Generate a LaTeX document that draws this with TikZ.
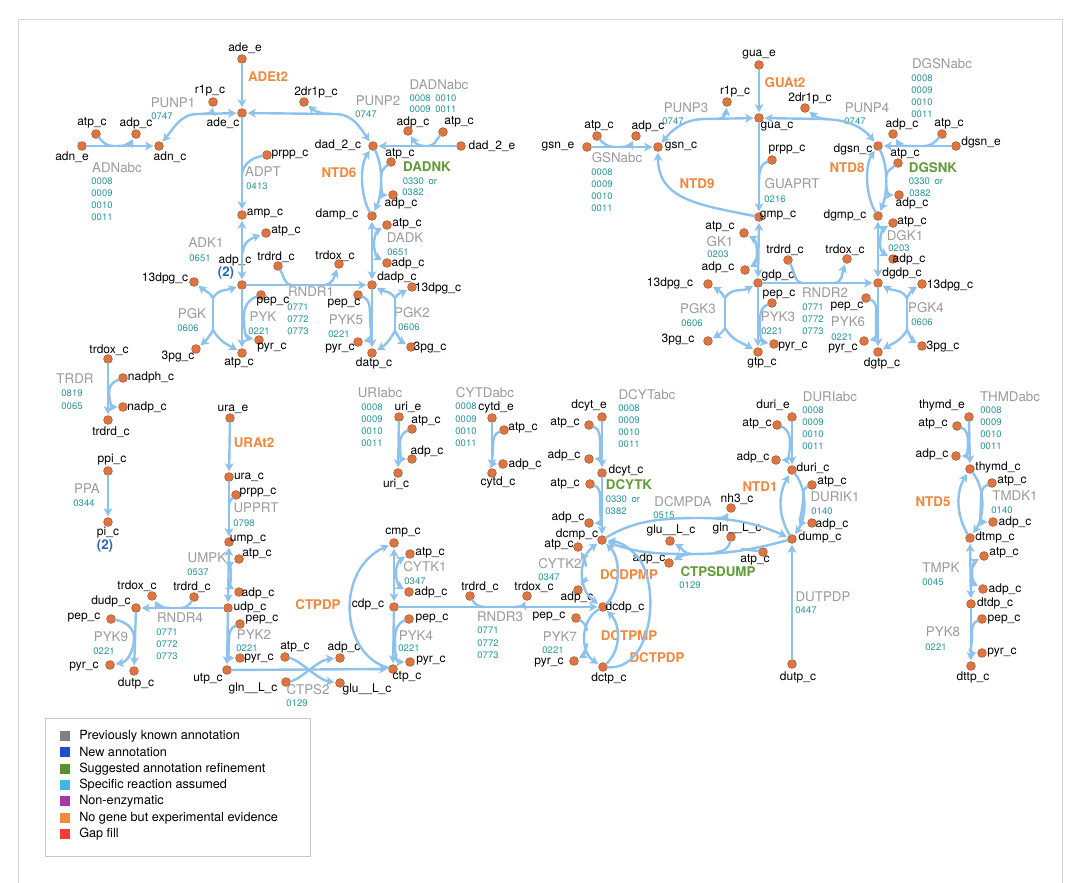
\documentclass[tikz,border=0pt]{standalone}
\usepackage{fontspec}
\setmainfont{TeX Gyre Heros}
\usetikzlibrary{arrows.meta}
\definecolor{rxc}{RGB}{141,194,236}
\definecolor{dotf}{RGB}{219,118,66}
\definecolor{dotd}{RGB}{178,86,46}
\definecolor{gname}{RGB}{155,155,155}
\definecolor{cteal}{RGB}{38,150,150}
\definecolor{corange}{RGB}{240,136,62}
\definecolor{cgreen}{RGB}{98,156,55}
\definecolor{cblue}{RGB}{40,105,180}
\definecolor{legbd}{RGB}{200,200,200}
\definecolor{framec}{RGB}{215,215,215}
\definecolor{lg1}{RGB}{128,128,128}
\definecolor{lg2}{RGB}{30,80,200}
\definecolor{lg3}{RGB}{85,145,50}
\definecolor{lg4}{RGB}{70,180,230}
\definecolor{lg5}{RGB}{160,60,160}
\definecolor{lg6}{RGB}{240,140,60}
\definecolor{lg7}{RGB}{240,60,60}
\newcount\tcnt
\newcommand{\tx}[3]{\global\advance\tcnt by 1 \node[#1] (t\the\tcnt) at (#2) {#3};}
\newcommand{\mtb}[4]{\node[dot] (#1) at (#2) {}; \node[mlab] (#1t) at (#3) {#4};}
\tikzset{
 dot/.style={circle, fill=dotf, draw=dotd, line width=0.4pt, inner sep=0pt, minimum size=6.6pt},
 mlab/.style={font=\fontsize{9}{10}\selectfont, text=black, inner sep=0pt},
 rlab/.style={font=\fontsize{10}{11}\selectfont, text=gname, inner sep=0pt},
 clab/.style={font=\fontsize{7.1}{8}\selectfont, text=cteal, inner sep=0pt},
 olab/.style={font=\bfseries\fontsize{10}{11}\selectfont, text=corange, inner sep=0pt},
 glab/.style={font=\bfseries\fontsize{10}{11}\selectfont, text=cgreen, inner sep=0pt},
 blab/.style={font=\bfseries\fontsize{10}{11}\selectfont, text=cblue, inner sep=0pt},
 ln/.style={draw=rxc, line width=1.8pt, line cap=round},
 ar/.style={ln, -{Stealth[length=6pt,width=6.5pt,inset=1.5pt]}, shorten >=0.8pt},
 dar/.style={ln, {Stealth[length=6pt,width=6.5pt,inset=1.5pt]}-{Stealth[length=6pt,width=6.5pt,inset=1.5pt]}, shorten >=0.8pt, shorten <=0.8pt},
 sq/.style={minimum size=7.5pt, inner sep=0pt},
 leg/.style={font=\fontsize{9.5}{11}\selectfont, text=black, inner sep=0pt, anchor=west},
}
\begin{document}
\begin{tikzpicture}[x=0.75pt,y=-0.75pt]
\useasboundingbox (0,0) rectangle (1078,882);
\fill[white] (0,0) rectangle (1078,882);
\coordinate (fbl) at (18,885); \coordinate (ftl) at (18,19);
\coordinate (ftr) at (1062,19); \coordinate (fbr) at (1062,885);
\draw[framec, line width=0.7pt] (fbl) -- (ftl) -- (ftr) -- (fbr);

%%%%%%%% metabolites: top-left
\mtb{adee}{242,59}{245,48}{ade\_e}
\mtb{adec}{242,113}{223,123}{ade\_c}
\mtb{rp1}{213,102}{210,91}{r1p\_c}
\mtb{drp1}{304,102}{316,92}{2dr1p\_c}
\mtb{atpA}{96,134}{92,123}{atp\_c}
\mtb{adpA}{136,134}{136,123}{adp\_c}
\mtb{adne}{82,146}{72,157}{adn\_e}
\mtb{adnc}{159,146}{170,157}{adn\_c}
\mtb{dadc}{373,146}{338,145}{dad\_2\_c}
\mtb{prppA}{267,155}{290,155}{prpp\_c}
\mtb{ampc}{242,215}{265,214}{amp\_c}
\mtb{dampc}{372,216}{337,214}{damp\_c}
\mtb{atpB}{391,162}{400,154}{atp\_c}
\mtb{adpB}{393,195}{401,203}{adp\_c}
\mtb{adpC}{408,131}{413,122}{adp\_c}
\mtb{atpC}{443,132}{459,122}{atp\_c}
\mtb{dade}{461,146}{492,146}{dad\_2\_e}
\mtb{atpD}{266,233}{286,231}{atp\_c}
\mtb{adpc}{242,285}{235,260}{adp\_c}
\mtb{trdrdA}{278,266}{276,257}{trdrd\_c}
\mtb{trdoxA}{339,264}{335,256}{trdox\_c}
\mtb{dadpc}{372,285}{397,277}{dadp\_c}
\mtb{dpgA}{194,282}{165,278}{13dpg\_c}
\mtb{pepA}{261,295}{273,302}{pep\_c}
\mtb{pyrA}{259,340}{272,348}{pyr\_c}
\mtb{pgA}{196,349}{178,357}{3pg\_c}
\mtb{atpc}{242,353}{239,363}{atp\_c}
\mtb{atpE}{387,225}{407,224}{atp\_c}
\mtb{adpE}{387,263}{408,263}{adp\_c}
\mtb{dpgB}{412,287}{438,288}{13dpg\_c}
\mtb{pepB}{358,295}{344,304}{pep\_c}
\mtb{pyrB}{358,342}{340,349}{pyr\_c}
\mtb{pgB}{411,347}{430,348}{3pg\_c}
\mtb{datpc}{372,353}{374,363}{datp\_c}
\mtb{trdoxT}{108,359}{109,350}{trdox\_c}
\mtb{nadph}{123,378}{151,377}{nadph\_c}
\mtb{nadp}{123,407}{147,407}{nadp\_c}
\mtb{trdrdT}{108,420}{111,432}{trdrd\_c}
\mtb{ppic}{108,471}{112,460}{ppi\_c}
\mtb{pic}{108,522}{108,533}{pi\_c}

%%%%%%%% metabolites: top-right
\mtb{guae}{759,65}{759,55}{gua\_e}
\mtb{guac}{759,118}{777,127}{gua\_c}
\mtb{rp2}{727,102}{735,92}{r1p\_c}
\mtb{drp2}{805,108}{810,98}{2dr1p\_c}
\mtb{gsne}{587,147}{558,147}{gsn\_e}
\mtb{atpF}{597,136}{599,126}{atp\_c}
\mtb{adpF}{636,136}{648,126}{adp\_c}
\mtb{gsnc}{658,147}{681,147}{gsn\_c}
\mtb{dgsnc}{878,146}{853,149}{dgsn\_c}
\mtb{adpG}{893,134}{902,124}{adp\_c}
\mtb{atpG}{942,134}{949,124}{atp\_c}
\mtb{dgsne}{956,146}{981,142}{dgsn\_e}
\mtb{prppB}{772,160}{787,150}{prpp\_c}
\mtb{gmpc}{759,217}{778,216}{gmp\_c}
\mtb{atpH}{898,163}{905,154}{atp\_c}
\mtb{adpH}{899,195}{912,203}{adp\_c}
\mtb{dgmpc}{878,216}{845,215}{dgmp\_c}
\mtb{atpI}{893,223}{912,222}{atp\_c}
\mtb{adpI}{893,259}{909,259}{adp\_c}
\mtb{atpJ}{744,233}{720,227}{atp\_c}
\mtb{adpJ}{745,270}{718,267}{adp\_c}
\mtb{gdpc}{758,283}{778,275}{gdp\_c}
\mtb{trdrdB}{788,260}{785,250}{trdrd\_c}
\mtb{trdoxB}{847,259}{845,250}{trdox\_c}
\mtb{dgdpc}{878,283}{902,273}{dgdp\_c}
\mtb{dpgC}{708,284}{670,283}{13dpg\_c}
\mtb{pgC}{708,341}{678,340}{3pg\_c}
\mtb{pepC}{772,303}{779,295}{pep\_c}
\mtb{pyrC}{774,344}{793,347}{pyr\_c}
\mtb{gtpc}{758,352}{762,363}{gtp\_c}
\mtb{pepD}{866,298}{847,307}{pep\_c}
\mtb{pyrD}{864,341}{843,349}{pyr\_c}
\mtb{dgtpc}{878,352}{882,363}{dgtp\_c}
\mtb{dpgD}{922,284}{950,285}{13dpg\_c}
\mtb{pgD}{922,346}{943,347}{3pg\_c}

%%%%%%%% metabolites: bottom
\mtb{urae}{230,418}{233,409}{ura\_e}
\mtb{urac}{229,477}{249,477}{ura\_c}
\mtb{prppC}{236,495}{258,493}{prpp\_c}
\mtb{umpc}{229,542}{248,540}{ump\_c}
\mtb{atpK}{239,559}{257,554}{atp\_c}
\mtb{adpK}{239,592}{258,593}{adp\_c}
\mtb{udpc}{228,608}{250,607}{udp\_c}
\mtb{trdoxC}{152,596}{137,586}{trdox\_c}
\mtb{trdrdC}{194,597}{192,587}{trdrd\_c}
\mtb{dudpc}{136,608}{111,601}{dudp\_c}
\mtb{pepE}{111,619}{84,618}{pep\_c}
\mtb{pyrE}{110,665}{84,667}{pyr\_c}
\mtb{dutpA}{134,671}{136,683}{dutp\_c}
\mtb{pepF}{240,624}{262,620}{pep\_c}
\mtb{pyrF}{240,658}{259,659}{pyr\_c}
\mtb{utpc}{227,670}{208,679}{utp\_c}
\mtb{atpL}{285,657}{295,647}{atp\_c}
\mtb{adpL}{340,658}{344,647}{adp\_c}
\mtb{glnA}{286,682}{253,688}{gln\_\_L\_c}
\mtb{gluA}{340,683}{367,689}{glu\_\_L\_c}
\mtb{cmpc}{394,543}{403,533}{cmp\_c}
\mtb{atpM}{410,554}{430,553}{atp\_c}
\mtb{adpM}{409,592}{431,592}{adp\_c}
\mtb{cdpc}{394,607}{368,604}{cdp\_c}
\mtb{pepG}{409,619}{432,619}{pep\_c}
\mtb{pyrG}{410,662}{431,661}{pyr\_c}
\mtb{ctpc}{393,669}{407,677}{ctp\_c}
\mtb{trdrdD}{470,596}{480,587}{trdrd\_c}
\mtb{trdoxD}{527,596}{534,587}{trdox\_c}
\mtb{urie}{399,417}{408,407}{uri\_e}
\mtb{atpN}{412,429}{426,421}{atp\_c}
\mtb{adpN}{412,459}{427,451}{adp\_c}
\mtb{uric}{398,473}{396,484}{uri\_c}
\mtb{cytde}{492,418}{496,407}{cytd\_e}
\mtb{atpO}{504,430}{523,428}{atp\_c}
\mtb{adpO}{503,464}{525,464}{adp\_c}
\mtb{cytdc}{492,473}{498,482}{cytd\_c}
\mtb{dcyte}{602,417}{589,405}{dcyt\_e}
\mtb{atpP}{589,425}{565,423}{atp\_c}
\mtb{adpP}{589,459}{564,455}{adp\_c}
\mtb{dcytc}{602,473}{626,470}{dcyt\_c}
\mtb{atpQ}{590,484}{565,484}{atp\_c}
\mtb{adpQ}{589,523}{568,517}{adp\_c}
\mtb{dcmpc}{602,540}{577,534}{dcmp\_c}
\mtb{atpR}{578,547}{559,545}{atp\_c}
\mtb{adpR}{578,590}{577,597}{adp\_c}
\mtb{dcdpc}{603,607}{625,607}{dcdp\_c}
\mtb{pepH}{576,618}{549,617}{pep\_c}
\mtb{pyrH}{574,661}{549,663}{pyr\_c}
\mtb{dctpc}{603,667}{609,678}{dctp\_c}
\mtb{gluB}{670,541}{671,530}{glu\_\_L\_c}
\mtb{adpS}{669,563}{649,558}{adp\_c}
\mtb{nh3}{731,508}{737,499}{nh3\_c}
\mtb{glnB}{731,537}{737,528}{gln\_\_L\_c}
\mtb{atpS}{763,552}{755,560}{atp\_c}
\mtb{durie}{792,417}{773,405}{duri\_e}
\mtb{atpT}{777,425}{757,424}{atp\_c}
\mtb{adpT}{776,460}{753,457}{adp\_c}
\mtb{duric}{792,470}{813,468}{duri\_c}
\mtb{atpU}{812,485}{832,482}{atp\_c}
\mtb{adpU}{812,523}{832,524}{adp\_c}
\mtb{dumpc}{792,539}{820,537}{dump\_c}
\mtb{dutpB}{792,664}{798,677}{dutp\_c}
\mtb{thymde}{969,417}{942,405}{thymd\_e}
\mtb{atpV}{957,426}{933,424}{atp\_c}
\mtb{adpV}{956,456}{932,454}{adp\_c}
\mtb{thymdc}{970,469}{998,467}{thymd\_c}
\mtb{atpW}{992,483}{1012,481}{atp\_c}
\mtb{adpW}{993,522}{1015,522}{adp\_c}
\mtb{dtmpc}{970,538}{995,537}{dtmp\_c}
\mtb{atpX}{984,556}{1004,553}{atp\_c}
\mtb{adpX}{983,589}{1005,589}{adp\_c}
\mtb{dtdpc}{971,604}{995,603}{dtdp\_c}
\mtb{pepI}{982,619}{1004,620}{pep\_c}
\mtb{pyrI}{982,653}{1002,653}{pyr\_c}
\mtb{dttpc}{971,666}{973,677}{dttp\_c}

%%%%%%%% reaction names
\tx{rlab}{173,103}{PUNP1} \tx{clab}{162,116}{0747}
\tx{olab}{268,77}{ADEt2}
\tx{rlab}{378,101}{PUNP2} \tx{clab}{366,114}{0747}
\tx{rlab}{117,168}{ADNabc}
\tx{clab}{102,181}{0008} \tx{clab}{102,193}{0009} \tx{clab}{102,205}{0010} \tx{clab}{102,217}{0011}
\tx{rlab}{439,85}{DADNabc}
\tx{clab}{433,98}{0008\hspace{3.5pt}0010} \tx{clab}{433,109}{0009\hspace{3.5pt}0011}
\tx{rlab}{263,172}{ADPT} \tx{clab}{257,186}{0413}
\tx{olab}{339,173}{NTD6}
\tx{glab}{427,167}{DADNK} \tx{clab}{420,181}{0330\hspace{3.5pt}or} \tx{clab}{413,192}{0382}
\tx{rlab}{206,243}{ADK1} \tx{clab}{200,258}{0651}
\tx{blab}{226,273}{(2)}
\tx{rlab}{405,238}{DADK} \tx{clab}{398,252}{0651}
\tx{rlab}{311,292}{RNDR1}
\tx{clab}{298,307}{0771} \tx{clab}{298,319}{0772} \tx{clab}{298,331}{0773}
\tx{rlab}{192,314}{PGK} \tx{clab}{188,328}{0606}
\tx{rlab}{263,317}{PYK} \tx{clab}{259,331}{0221}
\tx{rlab}{346,320}{PYK5} \tx{clab}{339,334}{0221}
\tx{rlab}{412,313}{PGK2} \tx{clab}{409,327}{0606}
\tx{rlab}{75,379}{TRDR} \tx{clab}{72,393}{0819} \tx{clab}{72,406}{0065}
\tx{rlab}{87,489}{PPA} \tx{clab}{84,503}{0344}
\tx{blab}{105,546}{(2)}

\tx{olab}{785,83}{GUAt2}
\tx{rlab}{686,108}{PUNP3} \tx{clab}{673,121}{0747}
\tx{rlab}{867,108}{PUNP4} \tx{clab}{855,121}{0747}
\tx{rlab}{617,158}{GSNabc}
\tx{clab}{602,172}{0008} \tx{clab}{602,184}{0009} \tx{clab}{602,196}{0010} \tx{clab}{602,208}{0011}
\tx{olab}{697,184}{NTD9}
\tx{rlab}{942,64}{DGSNabc}
\tx{clab}{922,78}{0008} \tx{clab}{922,90}{0009} \tx{clab}{922,102}{0010} \tx{clab}{922,114}{0011}
\tx{rlab}{792,184}{GUAPRT} \tx{clab}{775,199}{0216}
\tx{olab}{847,168}{NTD8}
\tx{glab}{933,168}{DGSNK} \tx{clab}{926,181}{0330\hspace{3.5pt}or} \tx{clab}{920,193}{0382}
\tx{rlab}{720,242}{GK1} \tx{clab}{718,254}{0203}
\tx{rlab}{905,236}{DGK1} \tx{clab}{899,248}{0203}
\tx{rlab}{825,293}{RNDR2}
\tx{clab}{813,307}{0771} \tx{clab}{813,319}{0772} \tx{clab}{813,331}{0773}
\tx{rlab}{698,309}{PGK3} \tx{clab}{692,323}{0606}
\tx{rlab}{778,317}{PYK3} \tx{clab}{772,331}{0221}
\tx{rlab}{848,322}{PYK6} \tx{clab}{842,337}{0221}
\tx{rlab}{926,308}{PGK4} \tx{clab}{922,322}{0606}

\tx{olab}{254,443}{URAt2}
\tx{rlab}{256,508}{UPPRT} \tx{clab}{244,523}{0798}
\tx{rlab}{380,393}{URIabc}
\tx{clab}{372,407}{0008} \tx{clab}{372,419}{0009} \tx{clab}{372,431}{0010} \tx{clab}{372,443}{0011}
\tx{rlab}{485,393}{CYTDabc}
\tx{clab}{466,406}{0008} \tx{clab}{466,419}{0009} \tx{clab}{466,431}{0010} \tx{clab}{466,443}{0011}
\tx{rlab}{647,395}{DCYTabc}
\tx{clab}{629,408}{0008} \tx{clab}{629,420}{0009} \tx{clab}{629,432}{0010} \tx{clab}{629,444}{0011}
\tx{glab}{629,485}{DCYTK} \tx{clab}{623,499}{0330\hspace{3.5pt}or} \tx{clab}{616,511}{0382}
\tx{rlab}{683,502}{DCMPDA} \tx{clab}{664,515}{0515}
\tx{rlab}{830,397}{DURIabc}
\tx{clab}{813,410}{0008} \tx{clab}{813,422}{0009} \tx{clab}{813,434}{0010} \tx{clab}{813,446}{0011}
\tx{olab}{760,487}{NTD1}
\tx{rlab}{835,497}{DURIK1} \tx{clab}{822,511}{0140}
\tx{rlab}{1010,397}{THMDabc}
\tx{clab}{991,410}{0008} \tx{clab}{991,422}{0009} \tx{clab}{991,434}{0010} \tx{clab}{991,446}{0011}
\tx{olab}{933,502}{NTD5}
\tx{rlab}{1015,496}{TMDK1} \tx{clab}{1002,510}{0140}
\tx{rlab}{207,558}{UMPK} \tx{clab}{198,572}{0537}
\tx{rlab}{425,567}{CYTK1} \tx{clab}{415,581}{0347}
\tx{olab}{318,605}{CTPDP}
\tx{rlab}{180,618}{RNDR4}
\tx{clab}{167,632}{0771} \tx{clab}{167,644}{0772} \tx{clab}{167,656}{0773}
\tx{rlab}{111,637}{PYK9} \tx{clab}{104,651}{0221}
\tx{rlab}{254,635}{PYK2} \tx{clab}{247,648}{0221}
\tx{rlab}{308,690}{CTPS2} \tx{clab}{297,703}{0129}
\tx{rlab}{416,636}{PYK4} \tx{clab}{409,648}{0221}
\tx{rlab}{500,617}{RNDR3}
\tx{clab}{488,630}{0771} \tx{clab}{488,643}{0772} \tx{clab}{488,655}{0773}
\tx{rlab}{560,564}{CYTK2} \tx{clab}{549,577}{0347}
\tx{rlab}{560,637}{PYK7} \tx{clab}{553,650}{0221}
\tx{olab}{629,575}{DCDPMP}
\tx{olab}{629,636}{DCTPMP}
\tx{olab}{657,658}{DCTPDP}
\tx{glab}{718,572}{CTPSDUMP} \tx{clab}{690,585}{0129}
\tx{rlab}{823,597}{DUTPDP} \tx{clab}{806,610}{0447}
\tx{rlab}{941,568}{TMPK} \tx{clab}{933,582}{0045}
\tx{rlab}{943,632}{PYK8} \tx{clab}{936,647}{0221}

%%%%%%%% reactions: top-left
\draw[ar] (adee) -- (adec);
\draw[ar] (adec) -- (ampc);
\coordinate (jADPT) at (242,176);
\draw[ln] (prppA) to[out=190,in=90] (jADPT);
\coordinate (jP1) at (198,114); \coordinate (jP1b) at (203,114);
\draw[dar] (adnc) to[out=50,in=180] (jP1) -- (adec);
\draw[ar] (jP1b) to[out=0,in=-95] (rp1);
\coordinate (jP2) at (335,114); \coordinate (jP2b) at (332,114);
\draw[dar] (adec) -- (jP2) to[out=0,in=125] (dadc);
\draw[ar] (jP2b) to[out=180,in=-40] (drp1);
\draw[ar] (adne) -- (adnc);
\coordinate (jA1) at (113,146); \coordinate (jA2) at (117,146);
\draw[ln] (atpA) to[out=-50,in=180] (jA1);
\draw[ar] (jA2) to[out=0,in=-120] (adpA);
\draw[ar] (dade) -- (dadc);
\coordinate (jB1) at (428,146); \coordinate (jB2) at (424,146);
\draw[ln] (atpC) to[out=-130,in=0] (jB1);
\draw[ar] (jB2) to[out=180,in=-60] (adpC);
\draw[ar] (dampc) .. controls (360,195) and (360,165) .. (dadc);
\draw[ar] (dadc) .. controls (384,168) and (382,195) .. (dampc);
\coordinate (jC1) at (381,177); \coordinate (jC2) at (381,184);
\draw[ln] (atpB) to[out=220,in=90] (jC1);
\draw[ar] (jC2) to[out=-90,in=180] (adpB);
\draw[dar] (ampc) -- (adpc);
\coordinate (jD) at (243,252);
\draw[ar] (jD) to[out=90,in=200] (atpD);
\draw[dar] (dampc) -- (dadpc);
\coordinate (jE) at (374,244);
\draw[ar] (jE) to[out=90,in=210] (atpE);
\draw[ar] (jE) to[out=-90,in=150] (adpE);
\draw[ar] (adpc) -- (dadpc);
\coordinate (jF1) at (292,285); \coordinate (jF2) at (324,285);
\draw[ln] (trdrdA) to[out=-60,in=180] (jF1);
\draw[ar] (jF2) to[out=0,in=-110] (trdoxA);
\coordinate (jG1) at (213,298); \coordinate (jG2) at (213,330);
\draw[ln] (jG1) -- (jG2);
\draw[ar] (jG1) to[out=120,in=-40] (dpgA);
\draw[ar] (jG1) to[out=60,in=200] (adpc);
\draw[ar] (jG2) to[out=-120,in=40] (pgA);
\draw[ar] (jG2) to[out=-60,in=150] (atpc);
\draw[ar] (adpc) -- (atpc);
\coordinate (jH) at (244,316);
\draw[ln] (pepA) to[out=200,in=90] (jH);
\draw[ar] (jH) to[out=-90,in=170] (pyrA);
\draw[ar] (dadpc) -- (datpc);
\coordinate (jI) at (370,316);
\draw[ln] (pepB) to[out=-20,in=90] (jI);
\draw[ar] (jI) to[out=-90,in=10] (pyrB);
\coordinate (jJ1) at (395,298); \coordinate (jJ2) at (395,331);
\draw[ln] (jJ1) -- (jJ2);
\draw[ar] (jJ1) to[out=120,in=-30] (dadpc);
\draw[ar] (jJ1) to[out=60,in=210] (dpgB);
\draw[ar] (jJ2) to[out=-120,in=30] (datpc);
\draw[ar] (jJ2) to[out=-60,in=150] (pgB);
\draw[ar] (trdoxT) -- (trdrdT);
\coordinate (jK) at (109,392);
\draw[ln] (nadph) to[out=200,in=90] (jK);
\draw[ar] (jK) to[out=-90,in=180] (nadp);
\draw[ar] (ppic) -- (pic);

%%%%%%%% reactions: top-right
\draw[ar] (guae) -- (guac);
\draw[ar] (guac) -- (gmpc);
\coordinate (jL) at (759,182);
\draw[ln] (prppB) to[out=200,in=90] (jL);
\coordinate (jM1) at (705,119); \coordinate (jM2) at (718,119);
\draw[dar] (gsnc) to[out=50,in=180] (jM1) -- (guac);
\draw[ar] (jM2) to[out=0,in=-95] (rp2);
\coordinate (jN1) at (820,119); \coordinate (jN2) at (828,119);
\draw[dar] (guac) -- (jN1) to[out=0,in=130] (dgsnc);
\draw[ar] (jN2) to[out=180,in=-40] (drp2);
\draw[ar] (gsne) -- (gsnc);
\coordinate (jO1) at (615,147); \coordinate (jO2) at (619,147);
\draw[ln] (atpF) to[out=-50,in=180] (jO1);
\draw[ar] (jO2) to[out=0,in=-120] (adpF);
\draw[ar] (gmpc) .. controls (700,205) and (658,200) .. (gsnc);
\draw[ar] (dgsne) -- (dgsnc);
\coordinate (jQ1) at (924,146); \coordinate (jQ2) at (919,146);
\draw[ln] (atpG) to[out=-130,in=0] (jQ1);
\draw[ar] (jQ2) to[out=180,in=-60] (adpG);
\draw[ar] (dgmpc) .. controls (865,195) and (865,165) .. (dgsnc);
\draw[ar] (dgsnc) .. controls (889,168) and (887,195) .. (dgmpc);
\coordinate (jR1) at (886,177); \coordinate (jR2) at (886,184);
\draw[ln] (atpH) to[out=220,in=90] (jR1);
\draw[ar] (jR2) to[out=-90,in=180] (adpH);
\draw[dar] (gmpc) -- (gdpc);
\coordinate (jS) at (757,252);
\draw[ar] (jS) to[out=90,in=-30] (atpJ);
\draw[ar] (jS) to[out=-90,in=30] (adpJ);
\draw[dar] (dgmpc) -- (dgdpc);
\coordinate (jT) at (880,245);
\draw[ar] (jT) to[out=90,in=210] (atpI);
\draw[ar] (jT) to[out=-90,in=150] (adpI);
\draw[ar] (gdpc) -- (dgdpc);
\coordinate (jU1) at (803,283); \coordinate (jU2) at (834,283);
\draw[ln] (trdrdB) to[out=-60,in=180] (jU1);
\draw[ar] (jU2) to[out=0,in=-110] (trdoxB);
\coordinate (jV1) at (725,298); \coordinate (jV2) at (725,328);
\draw[ln] (jV1) -- (jV2);
\draw[ar] (jV1) to[out=120,in=-30] (dpgC);
\draw[ar] (jV1) to[out=60,in=210] (gdpc);
\draw[ar] (jV2) to[out=-120,in=30] (pgC);
\draw[ar] (jV2) to[out=-60,in=150] (gtpc);
\draw[ar] (gdpc) -- (gtpc);
\coordinate (jW) at (760,320);
\draw[ln] (pepC) to[out=200,in=90] (jW);
\draw[ar] (jW) to[out=-90,in=170] (pyrC);
\draw[ar] (dgdpc) -- (dgtpc);
\coordinate (jX) at (876,320);
\draw[ln] (pepD) to[out=-20,in=90] (jX);
\draw[ar] (jX) to[out=-90,in=10] (pyrD);
\coordinate (jY1) at (907,298); \coordinate (jY2) at (907,330);
\draw[ln] (jY1) -- (jY2);
\draw[ar] (jY1) to[out=120,in=-30] (dgdpc);
\draw[ar] (jY1) to[out=60,in=210] (dpgD);
\draw[ar] (jY2) to[out=-120,in=30] (dgtpc);
\draw[ar] (jY2) to[out=-60,in=150] (pgD);

%%%%%%%% reactions: bottom
\draw[ar] (urae) -- (urac);
\draw[ar] (urac) -- (umpc);
\coordinate (jZ) at (229,510);
\draw[ln] (prppC) to[out=220,in=90] (jZ);
\draw[dar] (umpc) -- (udpc);
\coordinate (k1) at (231,575);
\draw[ar] (k1) to[out=90,in=210] (atpK);
\draw[ar] (k1) to[out=-90,in=150] (adpK);
\draw[ar] (udpc) -- (dudpc);
\coordinate (k2) at (181,608); \coordinate (k3) at (170,608);
\draw[ln] (trdrdC) to[out=-120,in=0] (k2);
\draw[ar] (k3) to[out=180,in=-60] (trdoxC);
\draw[ar] (dudpc) -- (dutpA);
\coordinate (k4) at (134,638);
\draw[ln] (pepE) to[out=-10,in=90] (k4);
\draw[ar] (k4) to[out=-90,in=10] (pyrE);
\draw[ar] (udpc) -- (utpc);
\coordinate (k5) at (229,640);
\draw[ln] (pepF) to[out=200,in=90] (k5);
\draw[ar] (k5) to[out=-90,in=180] (pyrF);
\draw[ar] (utpc) -- (ctpc);
\draw[ar] (atpL) .. controls (300,660) and (318,680) .. (gluA);
\draw[ar] (glnA) .. controls (300,680) and (318,660) .. (adpL);
\draw[dar] (cmpc) -- (cdpc);
\coordinate (k6) at (396,573);
\draw[ar] (k6) to[out=90,in=210] (atpM);
\draw[ar] (k6) to[out=-90,in=150] (adpM);
\draw[ar] (cdpc) -- (ctpc);
\coordinate (k7) at (395,638);
\draw[ln] (pepG) to[out=200,in=90] (k7);
\draw[ar] (k7) to[out=-90,in=180] (pyrG);
\draw[ar] (ctpc) .. controls (340,655) and (335,570) .. (cmpc);
\draw[ar] (cdpc) -- (dcdpc);
\coordinate (k8) at (485,607); \coordinate (k9) at (513,607);
\draw[ln] (trdrdD) to[out=-60,in=180] (k8);
\draw[ar] (k9) to[out=0,in=-110] (trdoxD);
\draw[ar] (urie) -- (uric);
\coordinate (k10) at (400,444);
\draw[ln] (atpN) to[out=200,in=90] (k10);
\draw[ar] (k10) to[out=-90,in=180] (adpN);
\draw[ar] (cytde) -- (cytdc);
\coordinate (k11) at (493,447);
\draw[ln] (atpO) to[out=200,in=90] (k11);
\draw[ar] (k11) to[out=-90,in=180] (adpO);
\draw[ar] (dcyte) -- (dcytc);
\coordinate (k12) at (600,443);
\draw[ln] (atpP) to[out=-20,in=90] (k12);
\draw[ar] (k12) to[out=-90,in=0] (adpP);
\draw[ar] (dcytc) -- (dcmpc);
\coordinate (k13) at (600,504);
\draw[ln] (atpQ) to[out=-20,in=90] (k13);
\draw[ar] (k13) to[out=-90,in=0] (adpQ);
\draw[ar] (durie) -- (duric);
\coordinate (k14) at (790,443);
\draw[ln] (atpT) to[out=-20,in=90] (k14);
\draw[ar] (k14) to[out=-90,in=0] (adpT);
\draw[ar] (thymde) -- (thymdc);
\coordinate (k15) at (968,442);
\draw[ln] (atpV) to[out=-20,in=90] (k15);
\draw[ar] (k15) to[out=-90,in=0] (adpV);
\draw[ar] (dumpc) .. controls (778,515) and (778,495) .. (duric);
\draw[ar] (duric) .. controls (808,490) and (806,518) .. (dumpc);
\coordinate (k16) at (803,500);
\draw[ln] (atpU) to[out=200,in=90] (k16);
\draw[ar] (k16) to[out=-90,in=180] (adpU);
\draw[ar] (dtmpc) .. controls (956,515) and (956,492) .. (thymdc);
\draw[ar] (thymdc) .. controls (986,490) and (984,517) .. (dtmpc);
\coordinate (k17) at (981,500);
\draw[ln] (atpW) to[out=200,in=90] (k17);
\draw[ar] (k17) to[out=-90,in=180] (adpW);
\draw[dar] (dtmpc) -- (dtdpc);
\coordinate (k18) at (972,572);
\draw[ar] (k18) to[out=90,in=210] (atpX);
\draw[ar] (k18) to[out=-90,in=150] (adpX);
\draw[ar] (dtdpc) -- (dttpc);
\coordinate (k19) at (972,635);
\draw[ln] (pepI) to[out=200,in=90] (k19);
\draw[ar] (k19) to[out=-90,in=180] (pyrI);
\draw[ar] (dutpB) -- (dumpc);
\coordinate (k20) at (700,518); \coordinate (k21) at (716,518);
\draw[ar] (dcmpc) .. controls (632,522) and (655,518) .. (k20) .. controls (740,518) and (765,527) .. (dumpc);
\draw[ar] (k21) to[out=0,in=-120] (nh3);
\coordinate (k22) at (690,554); \coordinate (k23) at (692,554);
\draw[ar] (dumpc) to[out=195,in=0] (k22) to[out=180,in=-20] (dcmpc);
\draw[ar] (k23) to[out=180,in=-30] (gluB);
\draw[ar] (k23) to[out=180,in=30] (adpS);
\coordinate (k24) at (716,552); \coordinate (k25) at (742,549);
\draw[ln] (glnB) to[out=-100,in=0] (k24);
\draw[ln] (atpS) to[out=170,in=-10] (k25);
\draw[dar] (dcmpc) .. controls (578,558) and (578,590) .. (dcdpc);
\coordinate (k26) at (586,566); \coordinate (k27) at (586,578);
\draw[ar] (k26) to[out=100,in=-60] (atpR);
\draw[ar] (k27) to[out=-100,in=60] (adpR);
\draw[ar] (dcdpc) .. controls (621,590) and (621,558) .. (dcmpc);
\draw[ar] (dctpc) .. controls (621,650) and (621,625) .. (dcdpc);
\draw[ar] (dctpc) .. controls (652,670) and (660,590) .. (640,560) .. controls (630,547) and (620,542) .. (dcmpc);
\draw[ar] (dcdpc) .. controls (580,620) and (580,652) .. (dctpc);
\coordinate (k28) at (587,630); \coordinate (k29) at (587,644);
\draw[ln] (pepH) to[out=-30,in=100] (k28);
\draw[ar] (k29) to[out=-100,in=30] (pyrH);

%%%%%%%% legend
\node[draw=legbd, line width=0.6pt, minimum width=198.75pt, minimum height=103.5pt, anchor=north west, inner sep=0pt] (leg) at (45,718) {};
\node[sq, fill=lg1] (s1) at (65,736) {}; \node[leg] (l1) at (79,736) {Previously known annotation};
\node[sq, fill=lg2] (s2) at (65,752) {}; \node[leg] (l2) at (79,752) {New annotation};
\node[sq, fill=lg3] (s3) at (65,769) {}; \node[leg] (l3) at (79,769) {Suggested annotation refinement};
\node[sq, fill=lg4] (s4) at (65,785) {}; \node[leg] (l4) at (79,785) {Specific reaction assumed};
\node[sq, fill=lg5] (s5) at (65,801) {}; \node[leg] (l5) at (79,801) {Non-enzymatic};
\node[sq, fill=lg6] (s6) at (65,818) {}; \node[leg] (l6) at (79,818) {No gene but experimental evidence};
\node[sq, fill=lg7] (s7) at (65,834) {}; \node[leg] (l7) at (79,834) {Gap fill};
\end{tikzpicture}
\end{document}
